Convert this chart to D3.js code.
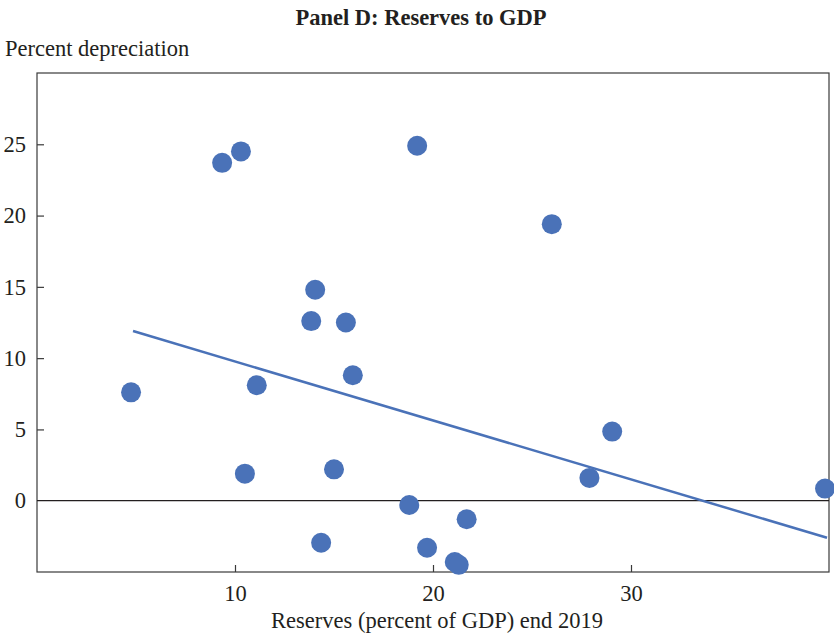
<!DOCTYPE html>
<html>
<head>
<meta charset="utf-8">
<script src="https://cdn.jsdelivr.net/npm/d3@7"></script>
<style>
  body { margin: 0; background: #fff; }
  svg { display: block; }
  text { font-family: "Liberation Serif", "Times New Roman", serif; fill: #231f20; }
</style>
</head>
<body>
<svg id="chart" width="834" height="635"></svg>
<script>
// Data (reserves % of GDP end 2019, percent depreciation)
const reserves = [4.75, 9.35, 10.3, 19.2, 26.0, 14.05, 13.85, 15.6, 15.95, 11.1, 29.05, 27.9, 39.8, 10.5, 15.0, 18.8, 21.7, 14.35, 19.7, 21.1, 21.3];
const depreciation = [7.6, 23.7, 24.5, 24.9, 19.4, 14.8, 12.6, 12.5, 8.8, 8.1, 4.85, 1.6, 0.85, 1.9, 2.2, -0.3, -1.3, -2.95, -3.3, -4.3, -4.5];
const trendX = [4.85, 39.9];
const trendY = [11.9, -2.6];
const xTicks = [10, 20, 30];
const yTicks = [0, 5, 10, 15, 20, 25];
const xDomain = [0, 40];
const yDomain = [-5, 30];

const FS = 22.5;
const svg = d3.select("#chart");
const m = { left: 37, right: 5, top: 73, bottom: 63 };
const W = 834, H = 635;
const x = d3.scaleLinear().domain(xDomain).range([m.left, W - m.right]);
const y = d3.scaleLinear().domain(yDomain).range([H - m.bottom, m.top]);

// Title
svg.append("text").attr("x", 421).attr("y", 25).attr("text-anchor", "middle")
  .attr("font-weight", "bold").attr("font-size", FS).text("Panel D: Reserves to GDP");
svg.append("text").attr("x", 5).attr("y", 56).attr("font-size", FS).text("Percent depreciation");

// Frame
svg.append("rect").attr("x", x(xDomain[0])).attr("y", y(yDomain[1]))
  .attr("width", x(xDomain[1]) - x(xDomain[0])).attr("height", y(yDomain[0]) - y(yDomain[1]))
  .attr("fill", "none").attr("stroke", "#3a3a3a").attr("stroke-width", 1.2);

// Axes with inward ticks
const xAxis = d3.axisBottom(x).tickValues(xTicks).tickSize(-7).tickPadding(13).tickFormat(d3.format("d"));
const gx = svg.append("g").attr("transform", `translate(0,${y(yDomain[0])})`).call(xAxis);
gx.select(".domain").remove();
gx.selectAll(".tick line").attr("stroke", "#3a3a3a").attr("stroke-width", 1.2);
gx.selectAll(".tick text").attr("font-size", FS).attr("font-family", "Liberation Serif").attr("fill", "#231f20");

const yAxis = d3.axisLeft(y).tickValues(yTicks).tickSize(-7).tickPadding(11).tickFormat(d3.format("d"));
const gy = svg.append("g").attr("transform", `translate(${x(xDomain[0])},0)`).call(yAxis);
gy.select(".domain").remove();
gy.selectAll(".tick line").attr("stroke", "#3a3a3a").attr("stroke-width", 1.2)
  .attr("display", d => d === 0 ? "none" : null);
gy.selectAll(".tick text").attr("font-size", FS).attr("font-family", "Liberation Serif").attr("fill", "#231f20");

// Zero line
svg.append("line").attr("x1", x(xDomain[0])).attr("x2", x(xDomain[1]))
  .attr("y1", y(0)).attr("y2", y(0)).attr("stroke", "#231f20").attr("stroke-width", 1.3);

// X label
svg.append("text").attr("x", 437).attr("y", 628).attr("text-anchor", "middle")
  .attr("font-size", FS).text("Reserves (percent of GDP) end 2019");

// Trend line
svg.append("line").attr("x1", x(trendX[0])).attr("y1", y(trendY[0]))
  .attr("x2", x(trendX[1])).attr("y2", y(trendY[1]))
  .attr("stroke", "#4a72b8").attr("stroke-width", 2.5);

// Points
const pts = reserves.map((r, i) => ({ r, d: depreciation[i] }));
svg.append("g").selectAll("circle").data(pts).join("circle")
  .attr("cx", p => x(p.r)).attr("cy", p => y(p.d)).attr("r", 10)
  .attr("fill", "#4a72b8");
</script>
</body>
</html>
